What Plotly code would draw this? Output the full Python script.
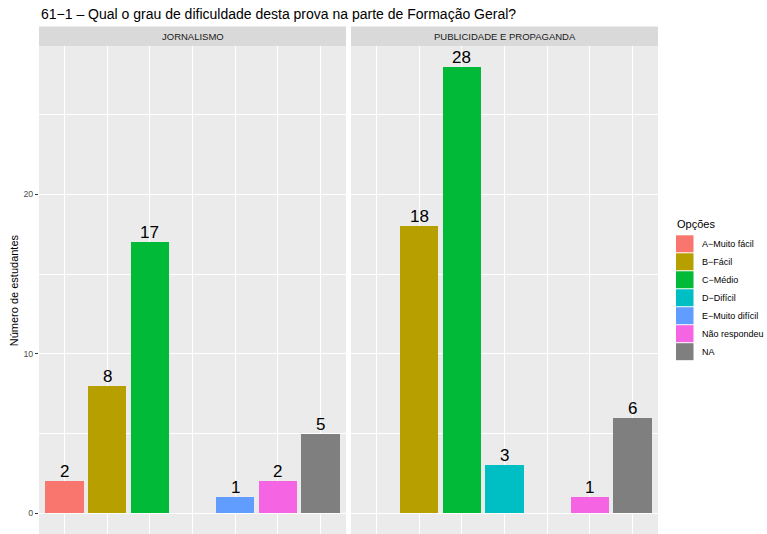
import plotly.graph_objects as go

title = "61\u22121 \u2013 Qual o grau de dificuldade desta prova na parte de Forma\u00e7\u00e3o Geral?"
facets = ["JORNALISMO", "PUBLICIDADE E PROPAGANDA"]
options = ["A\u2212Muito f\u00e1cil", "B\u2212F\u00e1cil", "C\u2212M\u00e9dio", "D\u2212Dif\u00edcil",
           "E\u2212Muito dif\u00edcil", "N\u00e3o respondeu", "NA"]
colors = ["#F8766D", "#B79F00", "#00BA38", "#00BFC4", "#619CFF", "#F564E3", "#7F7F7F"]
jornalismo = [2, 8, 17, None, 1, 2, 5]
publicidade = [None, 18, 28, 3, None, 1, 6]
y_ticks = [0, 10, 20]
y_minor = [5, 15, 25]
y_label = "N\u00famero de estudantes"
legend_title = "Op\u00e7\u00f5es"

W, H = 767, 534
L, R, T, B = 39, 658, 45.5, 534
FONT = "Liberation Sans, Arial, Helvetica, sans-serif"


def px2x(px):
    return (px - L) / (R - L)


def py2y(py):
    return (B - py) / (B - T)


fig = go.Figure()
positions = list(range(1, len(options) + 1))
series = [jornalismo, publicidade]
axes = [("x", "y"), ("x2", "y2")]

for vals, (xa, ya) in zip(series, axes):
    fig.add_trace(go.Bar(
        x=positions, y=vals, width=0.9, marker=dict(color=colors, line=dict(width=0)),
        xaxis=xa, yaxis=ya, showlegend=False, hoverinfo="skip"))
    tx = [p for p, v in zip(positions, vals) if v is not None]
    ty = [v for v in vals if v is not None]
    for p, v in zip(tx, ty):
        fig.add_annotation(x=p, y=v, xref=xa, yref=ya, text=str(v), showarrow=False,
                           yanchor="bottom", yshift=-2,
                           font=dict(family=FONT, size=17, color="black"))

split = 307 / (R - L)
split2 = 312 / (R - L)
xcommon = dict(range=[0.4, 7.6], tickvals=positions, showticklabels=False, ticks="",
               showgrid=True, gridcolor="white", gridwidth=1.1, zeroline=False,
               showline=False, fixedrange=True)
ycommon = dict(range=[-1.3, 29.3], tickvals=y_ticks, showgrid=True, gridcolor="white",
               gridwidth=1.1, zeroline=False, showline=False,
               minor=dict(tickvals=y_minor, showgrid=True, gridcolor="white", gridwidth=0.5, ticks=""))

fig.update_layout(
    width=W, height=H,
    margin=dict(l=L, r=W - R, t=T, b=H - B, pad=0),
    paper_bgcolor="white", plot_bgcolor="#EBEBEB",
    font=dict(family=FONT),
    bargap=0,
    xaxis=dict(domain=[0, split], anchor="y", **xcommon),
    xaxis2=dict(domain=[split2, 1], anchor="y2", **xcommon),
    yaxis=dict(anchor="x", ticks="outside", ticklen=3, tickcolor="#333333", tickwidth=1,
               tickfont=dict(family=FONT, size=8.8, color="#4D4D4D"), **ycommon),
    yaxis2=dict(anchor="x2", matches="y", showticklabels=False, ticks="", **ycommon),
)

# title aligned with the panel (ggplot default)
fig.add_annotation(xref="paper", yref="paper", x=0, y=py2y(13), text=title, showarrow=False,
                   xanchor="left", yanchor="middle",
                   font=dict(family=FONT, size=14, color="black"))

# facet strips
for i, (name, xa) in enumerate(zip(facets, ["x", "x2"])):
    fig.add_shape(type="rect", xref=f"{xa} domain", yref="paper", x0=0, x1=1,
                  y0=1, y1=py2y(26), fillcolor="#D9D9D9", line=dict(width=0), layer="below")
    fig.add_annotation(xref=f"{xa} domain", yref="paper", x=0.5, y=py2y(36), text=name,
                       showarrow=False, xanchor="center", yanchor="middle",
                       font=dict(family=FONT, size=9.5, color="#1A1A1A"))

# y axis title
fig.add_annotation(xref="paper", yref="paper", x=px2x(14), y=py2y(290), text=y_label,
                   textangle=-90, showarrow=False, xanchor="center", yanchor="middle",
                   font=dict(family=FONT, size=11, color="black"))

# legend
fig.add_annotation(xref="paper", yref="paper", x=px2x(675), y=py2y(224), text=legend_title,
                   showarrow=False, xanchor="left", yanchor="middle",
                   font=dict(family=FONT, size=11, color="black"))
key_top = 234.5
key_h = 18
for i, (lab, col) in enumerate(zip(options, colors)):
    y0 = key_top + i * key_h
    fig.add_shape(type="rect", xref="paper", yref="paper", x0=px2x(676), x1=px2x(693.5),
                  y0=py2y(y0 + 0.5), y1=py2y(y0 + key_h - 0.5), fillcolor=col, line=dict(width=0))
    fig.add_annotation(xref="paper", yref="paper", x=px2x(700), y=py2y(y0 + key_h / 2),
                       text=lab, showarrow=False, xanchor="left", yanchor="middle",
                       font=dict(family=FONT, size=9, color="black"))

fig.write_html("out.html", config={"displayModeBar": False},
               post_script="document.body.style.margin='0';document.body.style.overflow='hidden';")
